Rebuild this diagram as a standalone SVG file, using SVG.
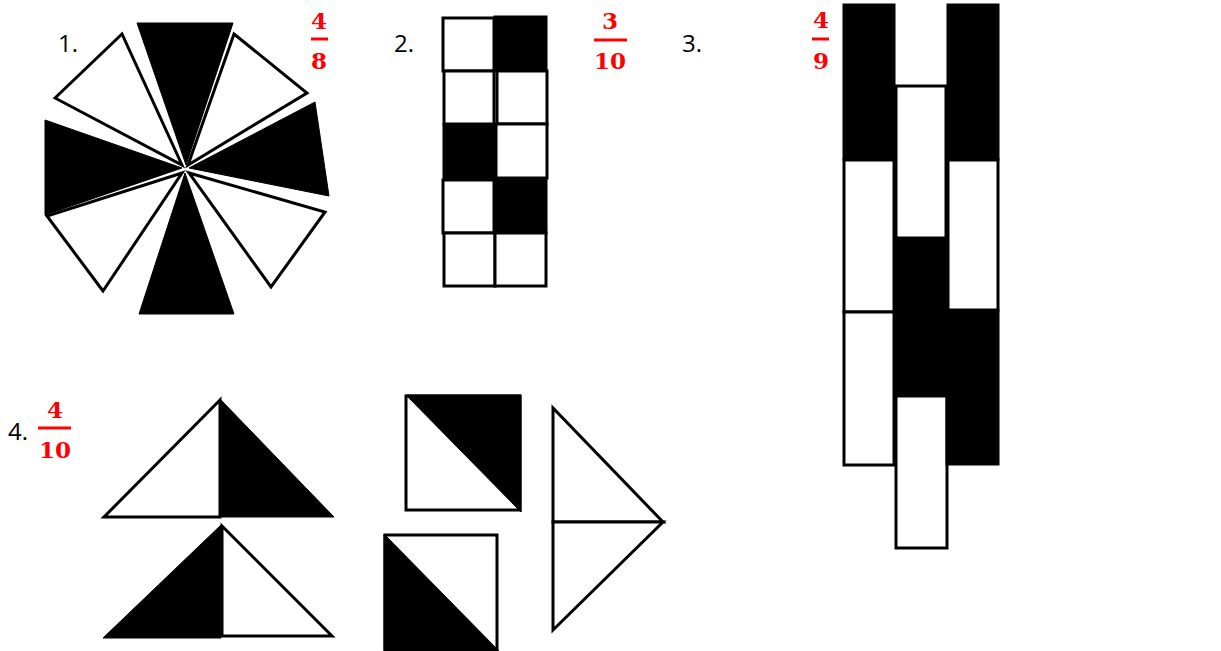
<svg xmlns="http://www.w3.org/2000/svg" width="1221" height="651" viewBox="0 0 1221 651">
<style>
.w{fill:#fff;stroke:#000;stroke-width:3;stroke-linejoin:miter}
.b{fill:#000;stroke:#000;stroke-width:1}
.lbl{font-family:"Open Sans","Liberation Sans",sans-serif;font-size:24px;fill:#000}
.fr{font-family:"DejaVu Serif","Liberation Serif",serif;font-weight:bold;font-size:23px;fill:#f00;text-anchor:middle}
.bar{stroke:#f00;stroke-width:3}
</style>
<rect width="1221" height="651" fill="#fff"/>
<g id="fig1">
<polygon class="b" points="137,23 233,23 186,165"/>
<polygon class="w" points="234,34 307,93 188,165"/>
<polygon class="b" points="315,102 329,196 189,168"/>
<polygon class="w" points="325,212 271,287 189,173"/>
<polygon class="b" points="234,314 139,314 185,173"/>
<polygon class="w" points="103,291 47,216 182,173"/>
<polygon class="b" points="45,215 45,120 182,168"/>
<polygon class="w" points="55,98 122,34 182,165"/>
<text class="lbl" x="58" y="52">1.</text>
<text class="fr" x="319" y="29">4</text>
<line class="bar" x1="311" y1="39" x2="328" y2="39"/>
<text class="fr" x="319" y="69">8</text>
</g>
<g id="fig2">
<rect class="w" x="443" y="18" width="51" height="53"/>
<rect class="b" x="494" y="16" width="53" height="55"/>
<rect class="w" x="444" y="71" width="50" height="53"/>
<rect class="w" x="497" y="71" width="50" height="53"/>
<rect class="b" x="443" y="124" width="52" height="55"/>
<rect class="w" x="496" y="124" width="51" height="54"/>
<rect class="w" x="443" y="180" width="51" height="53"/>
<rect class="b" x="494" y="178" width="53" height="56"/>
<rect class="w" x="444" y="233" width="51" height="53"/>
<rect class="w" x="495" y="233" width="51" height="53"/>
<text class="lbl" x="394" y="52">2.</text>
<text class="fr" x="610" y="29">3</text>
<line class="bar" x1="594" y1="40" x2="627" y2="40"/>
<text class="fr" x="610" y="69">10</text>
</g>
<g id="fig3">
<rect class="b" x="843" y="4" width="52" height="156"/>
<rect class="w" x="844" y="160" width="50" height="152"/>
<rect class="w" x="844" y="312" width="50" height="153"/>
<rect class="w" x="896" y="86" width="50" height="152"/>
<rect class="b" x="894" y="238" width="53" height="157"/>
<rect class="w" x="896" y="396" width="51" height="152"/>
<rect class="b" x="947" y="4" width="52" height="156"/>
<rect class="w" x="948" y="160" width="50" height="150"/>
<rect class="b" x="946" y="310" width="53" height="155"/>
<text class="lbl" x="682" y="52">3.</text>
<text class="fr" x="821" y="28">4</text>
<line class="bar" x1="812" y1="39" x2="829" y2="39"/>
<text class="fr" x="821" y="69">9</text>
</g>
<g id="fig4">
<polygon class="w" points="220,400 104,517 220,517"/>
<polygon class="b" points="220,399 334,517 220,517"/>
<polygon class="b" points="221,525 103,638 221,638"/>
<polygon class="w" points="222,526 332,636 222,636"/>
<polygon class="w" points="406,396 520,396 520,510 406,510"/>
<polygon class="b" points="406,395 521,395 521,512"/>
<polygon class="w" points="385,535 497,535 497,649 385,649"/>
<polygon class="b" points="384,534 384,651 499,651"/>
<polygon class="w" points="553,408 553,522 663,522"/>
<polygon class="w" points="553,522 663,522 553,630"/>
<text class="lbl" x="8" y="440">4.</text>
<text class="fr" x="55" y="418">4</text>
<line class="bar" x1="38" y1="428" x2="71" y2="428"/>
<text class="fr" x="55" y="458">10</text>
</g>
</svg>
